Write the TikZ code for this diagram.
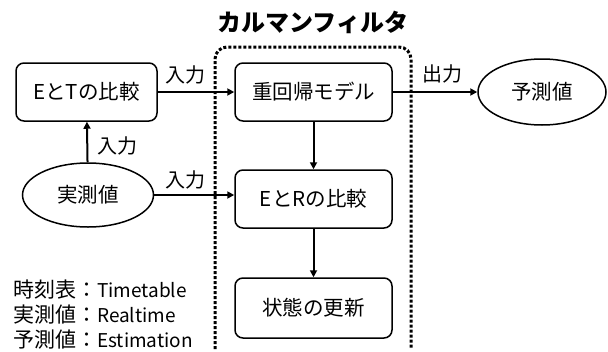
\documentclass[tikz,border=0pt]{standalone}
\usepackage{fontspec}
\setmainfont{Noto Sans CJK JP}
\usetikzlibrary{arrows.meta,shapes.geometric}
\newcommand\latinsz[1]{{\fontsize{19}{25}\selectfont #1}}
\begin{document}
\begin{tikzpicture}[x=1pt,y=-1pt,
  box/.style={draw,line width=1.5pt,rounded corners=8pt,minimum width=157pt,minimum height=58pt,inner sep=0pt,font=\fontsize{20.5}{22}\selectfont},
  oval/.style={draw,line width=1.5pt,ellipse,inner sep=0pt,font=\fontsize{20.5}{22}\selectfont},
  arr/.style={line width=2pt,-{Triangle[length=7pt,width=7pt]}},
  lbl/.style={font=\fontsize{20}{22}\selectfont,inner sep=0pt}]
\useasboundingbox (0,0) rectangle (608,351);
\draw[line width=3pt,dotted,rounded corners=12pt] (215,349) -- (215,47) -- (411,47) -- (411,349);
\node[font=\bfseries\fontsize{24}{26}\selectfont] (title) at (313,22) {カルマンフィルタ};
\node[box,minimum width=141pt] (et) at (86.5,92) {EとTの比較};
\node[box] (mr) at (313.5,92) {重回帰モデル};
\node[box] (er) at (313.5,199) {EとRの比較};
\node[box,minimum height=60pt] (st) at (313.5,308) {状態の更新};
\node[oval,minimum width=128pt,minimum height=66pt] (pred) at (542,92) {予測値};
\node[oval,minimum width=131pt,minimum height=64pt] (real) at (88,195) {実測値};
\draw[arr] (et) -- (mr);
\draw[arr] (real) -- (et);
\draw[arr] (real.east) -- (real.east -| er.west);
\draw[arr] (mr) -- (er);
\draw[arr] (er) -- (st);
\draw[arr] (mr) -- (pred);
\node[lbl] (l1) at (185,75) {入力};
\node[lbl] (l2) at (117,146) {入力};
\node[lbl] (l3) at (185,180) {入力};
\node[lbl] (l4) at (442,74) {出力};
\node[anchor=west,align=left,inner sep=0pt,font=\fontsize{21}{25}\selectfont] (legend) at (13,315) {時刻表：\latinsz{Timetable}\\実測値：\latinsz{Realtime}\\予測値：\latinsz{Estimation}};
\end{tikzpicture}
\end{document}
